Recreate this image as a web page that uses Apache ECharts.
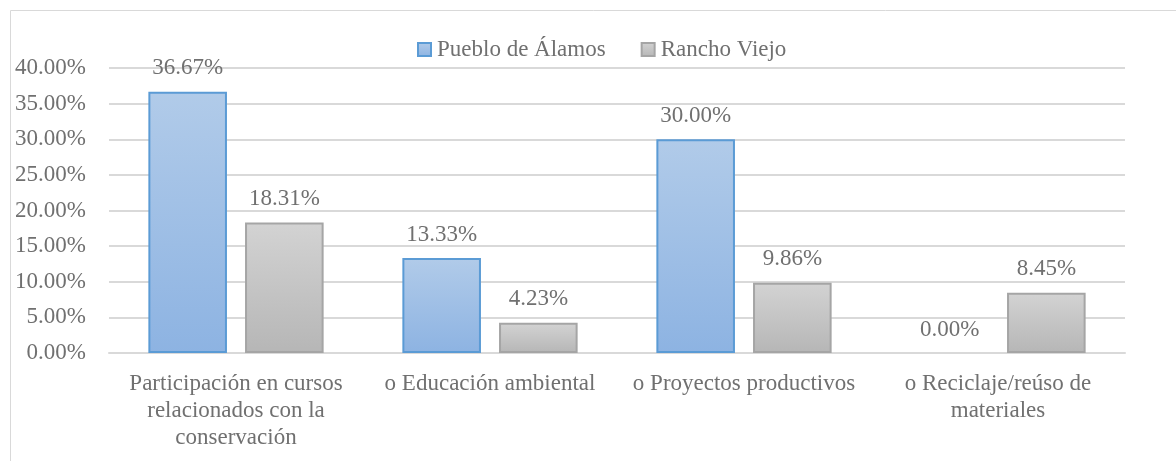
<!DOCTYPE html>
<html>
<head>
<meta charset="utf-8">
<style>
  html, body { margin: 0; padding: 0; background: #fff; overflow: hidden; }
  #chart { width: 1176px; height: 461px; }
</style>
<script src="https://cdn.jsdelivr.net/npm/echarts@6/dist/echarts.min.js"></script>
</head>
<body>
<div id="chart"></div>
<script>
// categorias y valores (%)
var categorias = [
  'Participación en cursos\nrelacionados con la\nconservación',
  'o Educación ambiental',
  'o Proyectos productivos',
  'o Reciclaje/reúso de\nmateriales'
];
var series1Nombre = 'Pueblo de Álamos';
var series2Nombre = 'Rancho Viejo';
var puebloAlamos = [36.67, 13.33, 30.00, 0.00];
var ranchoViejo = [18.31, 4.23, 9.86, 8.45];
var ticksY = [0, 5, 10, 15, 20, 25, 30, 35, 40];

var fuente = 'Liberation Serif, Times New Roman, serif';
var colorTexto = '#707070';

// barras en cero sin borde
function armarDatos(valores) {
    return valores.map(function (v) {
        return v === 0 ? { value: v, itemStyle: { borderWidth: 0 } } : v;
    });
}

function etiqueta() {
    return {
        show: true, position: 'top', distance: 12,
        fontFamily: fuente, fontSize: 23, color: colorTexto,
        formatter: function (p) { return p.value.toFixed(2) + '%'; }
    };
}

var myChart = echarts.init(document.getElementById('chart'));

myChart.setOption({
    animation: false,
    textStyle: { fontFamily: fuente },
    graphic: [{
        type: 'rect',
        shape: { x: 10.5, y: 10.5, width: 1300, height: 600 },
        style: { fill: 'none', stroke: '#d9d9d9', lineWidth: 1 },
        silent: true
    }],
    legend: {
        top: 33,
        left: 412,
        icon: 'rect',
        itemWidth: 13,
        itemHeight: 13,
        itemGap: 35,
        textStyle: { fontFamily: fuente, fontSize: 23, color: colorTexto, padding: [0, 0, 0, 1] },
        data: [series1Nombre, series2Nombre]
    },
    grid: { left: 109, right: 51, top: 68, bottom: 108, containLabel: false },
    xAxis: {
        type: 'category',
        data: categorias,
        axisLine: { show: true, lineStyle: { color: '#d9d9d9', width: 2 } },
        axisTick: { show: false },
        axisLabel: {
            fontFamily: fuente, fontSize: 23, color: colorTexto,
            lineHeight: 27, margin: 17, interval: 0
        }
    },
    yAxis: {
        type: 'value',
        min: ticksY[0],
        max: ticksY[ticksY.length - 1],
        interval: 5,
        axisLine: { show: false },
        axisTick: { show: false },
        splitLine: { lineStyle: { color: '#d9d9d9', width: 2 } },
        axisLabel: {
            fontFamily: fuente, fontSize: 23, color: colorTexto, margin: 23,
            formatter: function (v) { return v.toFixed(2) + '%'; }
        }
    },
    series: [
        {
            name: series1Nombre,
            type: 'bar',
            data: armarDatos(puebloAlamos),
            barGap: '23%',
            barCategoryGap: '31%',
            itemStyle: {
                color: new echarts.graphic.LinearGradient(0, 0, 0, 1, [
                    { offset: 0, color: '#b1cbe9' },
                    { offset: 1, color: '#8db3e2' }
                ]),
                borderColor: '#5b9bd5',
                borderWidth: 2
            },
            label: etiqueta()
        },
        {
            name: series2Nombre,
            type: 'bar',
            data: armarDatos(ranchoViejo),
            itemStyle: {
                color: new echarts.graphic.LinearGradient(0, 0, 0, 1, [
                    { offset: 0, color: '#d3d3d3' },
                    { offset: 1, color: '#b6b6b6' }
                ]),
                borderColor: '#a5a5a5',
                borderWidth: 2
            },
            label: etiqueta()
        }
    ]
});
</script>
</body>
</html>
